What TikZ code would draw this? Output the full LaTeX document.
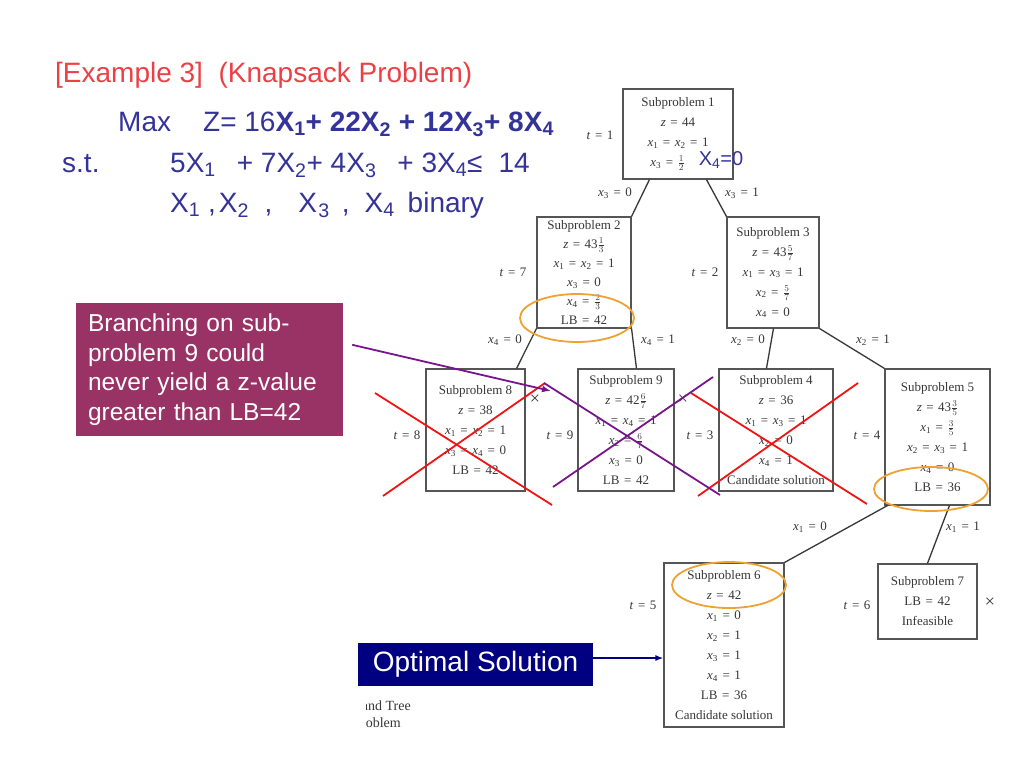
\documentclass[tikz,border=0pt]{standalone}
\usepackage{fontspec}
\setmainfont{Liberation Serif}
\setsansfont{Liberation Sans}
\usetikzlibrary{arrows.meta,calc,shapes.geometric}
\definecolor{titlered}{RGB}{235,65,70}
\definecolor{slideblue}{RGB}{51,51,153}
\definecolor{boxgray}{RGB}{85,85,85}
\definecolor{txtgray}{RGB}{55,55,55}
\definecolor{ellorange}{RGB}{238,162,50}
\definecolor{crossred}{RGB}{240,20,20}
\definecolor{crosspurple}{RGB}{120,20,140}
\definecolor{calloutc}{RGB}{153,51,102}
\definecolor{optnavy}{RGB}{0,0,128}
\newcommand{\xv}[1]{\textit{x}\textsubscript{#1}}
\newcommand{\eq}{\hspace{.35em}=\hspace{.35em}}
\begin{document}
\begin{tikzpicture}[x=1pt,y=-1pt,
  box/.style={draw=boxgray,line width=1.1pt,text=txtgray,font=\fontsize{13}{20}\selectfont,align=center,inner sep=0pt},
  lbl/.style={text=txtgray,font=\fontsize{13}{13}\selectfont,inner sep=0pt},
  edge/.style={draw=txtgray,line width=1.3pt},
  ell/.style={ellipse,draw=ellorange,line width=1.8pt},
  redx/.style={draw=crossred,line width=1.8pt},
  purx/.style={draw=crosspurple,line width=1.8pt},
  slide/.style={font=\sffamily\fontsize{28}{33}\selectfont,inner sep=0pt},
  xmark/.style={text=txtgray,font=\fontsize{18}{18}\selectfont,inner sep=0pt}
]
\useasboundingbox[fill=white] (0,0) rectangle (1024,768);

% ---- problem statement
\node[slide,text=titlered,anchor=base west] (title) at (55,82) {[Example 3]\ \ (Knapsack Problem)};
\node[slide,text=slideblue,anchor=base west] (max) at (118,131) {Max};
\node[slide,text=slideblue,anchor=base west] (obj) at (203,131) {Z= 16\textbf{X\textsubscript{1}+ 22X\textsubscript{2} + 12X\textsubscript{3}+ 8X\textsubscript{4}}};
\node[slide,text=slideblue,anchor=base west] (st) at (62,172) {s.t.};
\node[slide,text=slideblue,anchor=base west] (cons) at (170,172) {5X\textsubscript{1}\hspace{21pt}+ 7X\textsubscript{2}+ 4X\textsubscript{3}\hspace{21pt}+ 3X\textsubscript{4}≤\hspace{16pt}14};
\node[slide,text=slideblue,anchor=base west] (bin) at (170,212) {X\textsubscript{1} ,\hspace{3pt}X\textsubscript{2}\hspace{15.6pt},\hspace{26pt}X\hspace{1.5pt}\textsubscript{3}\hspace{12pt},\hspace{15pt}X\textsubscript{4}\hspace{13pt}binary};

% ---- tree boxes
\node[box,minimum width=110pt,minimum height=90pt] (b1) at (678,134) {Subproblem 1\\ \textit{z}\eq 44\\ \xv1\eq\xv2\eq 1\\ \xv3\eq$\frac{1}{2}$\hspace{1.6em}\mbox{}};
\node[box,font=\fontsize{13}{19}\selectfont,minimum width=94pt,minimum height=111pt] (b2) at (584,272.5) {Subproblem 2\\ \textit{z}\eq 43$\frac{1}{3}$\\ \xv1\eq\xv2\eq 1\\ \xv3\eq 0\\ \xv4\eq$\frac{2}{3}$\\ LB\eq 42};
\node[box,minimum width=92pt,minimum height=111pt] (b3) at (773,272.5) {Subproblem 3\\ \textit{z}\eq 43$\frac{5}{7}$\\ \xv1\eq\xv3\eq 1\\ \xv2\eq$\frac{5}{7}$\\ \xv4\eq 0};
\node[box,minimum width=99pt,minimum height=122pt] (b8) at (475.5,430) {Subproblem 8\\ \textit{z}\eq 38\\ \xv1\eq\xv2\eq 1\\ \xv3\eq\xv4\eq 0\\ LB\eq 42};
\node[box,minimum width=96pt,minimum height=122pt] (b9) at (626,430) {Subproblem 9\\ \textit{z}\eq 42$\frac{6}{7}$\\ \xv1\eq\xv4\eq 1\\ \xv2\eq$\frac{6}{7}$\\ \xv3\eq 0\\ LB\eq 42};
\node[box,minimum width=114pt,minimum height=122pt] (b4) at (776,430) {Subproblem 4\\ \textit{z}\eq 36\\ \xv1\eq\xv3\eq 1\\ \xv2\eq 0\\ \xv4\eq 1\\ Candidate solution};
\node[box,minimum width=105pt,minimum height=136pt] (b5) at (937.5,437) {Subproblem 5\\ \textit{z}\eq 43$\frac{3}{5}$\\ \xv1\eq$\frac{3}{5}$\\ \xv2\eq\xv3\eq 1\\ \xv4\eq 0\\ LB\eq 36};
\node[box,minimum width=120pt,minimum height=164pt] (b6) at (724,645) {Subproblem 6\\ \textit{z}\eq 42\\ \xv1\eq 0\\ \xv2\eq 1\\ \xv3\eq 1\\ \xv4\eq 1\\ LB\eq 36\\ Candidate solution};
\node[box,minimum width=99pt,minimum height=75pt] (b7) at (927.5,601.5) {Subproblem 7\\ LB\eq 42\\ Infeasible};

\node[text=slideblue,font=\sffamily\fontsize{20}{20}\selectfont,inner sep=0pt] (x40) at (721,160) {X\textsubscript{4}=0};

% ---- tree edges
\draw[edge] ($(b1.south west)+(27,0)$) -- (b2.north east);
\draw[edge] ($(b1.south west)+(84,0)$) -- (b3.north west);
\draw[edge] (b2.south west) -- ($(b8.north east)+(-9,0)$);
\draw[edge] (b2.south east) -- ($(b9.north west)+(59,0)$);
\draw[edge] ($(b3.south west)+(47,0)$) -- ($(b4.north west)+(48,0)$);
\draw[edge] (b3.south east) -- (b5.north west);
\draw[edge] ($(b5.south west)+(3,0)$) -- (b6.north east);
\draw[edge] ($(b5.south west)+(65,0)$) -- ($(b7.north west)+(50,0)$);

% ---- edge labels
\node[lbl] (l30) at (615,193) {\xv3\eq 0};
\node[lbl] (l31) at (742,193) {\xv3\eq 1};
\node[lbl] (l40) at (505,340) {\xv4\eq 0};
\node[lbl] (l41) at (658,340) {\xv4\eq 1};
\node[lbl] (l20) at (748,340) {\xv2\eq 0};
\node[lbl] (l21) at (873,340) {\xv2\eq 1};
\node[lbl] (l10) at (810,527) {\xv1\eq 0};
\node[lbl] (l11) at (963,527) {\xv1\eq 1};
% ---- t labels
\node[lbl] (t1) at (600,135) {\textit{t}\eq 1};
\node[lbl] (t7) at (513,272) {\textit{t}\eq 7};
\node[lbl] (t2) at (705,272) {\textit{t}\eq 2};
\node[lbl] (t8) at (407,435) {\textit{t}\eq 8};
\node[lbl] (t9) at (560,435) {\textit{t}\eq 9};
\node[lbl] (t3) at (700,435) {\textit{t}\eq 3};
\node[lbl] (t4) at (867,435) {\textit{t}\eq 4};
\node[lbl] (t5) at (643,605) {\textit{t}\eq 5};
\node[lbl] (t6) at (857,605) {\textit{t}\eq 6};
% ---- fathomed marks
\node[xmark] (m8) at (535,400) {×};
\node[xmark] (m9) at (683,400) {×};
\node[xmark] (m7) at (990,603) {×};

% ---- highlight ellipses
\node[ell,minimum width=114pt,minimum height=48pt] (e2) at (577,318) {};
\node[ell,minimum width=114pt,minimum height=46pt] (e6) at (729,585) {};
\node[ell,minimum width=114pt,minimum height=44pt] (e5) at (931,489) {};

% ---- crosses
\draw[redx] (375,393) -- (552,505);
\draw[redx] (383,496) -- (545,383);
\draw[redx] (691,393) -- (867,504);
\draw[redx] (698,496) -- (858,383);
\draw[purx] (544,383) -- (720,495);
\draw[purx] (553,487) -- (713,377);

% ---- callout
\node[fill=calloutc,text=white,font=\sffamily\fontsize{24.5}{29.5}\selectfont,align=left,text width=243pt,inner xsep=12pt,inner ysep=0pt,minimum height=133pt] (cb) at (209.5,369.5) {Branching on sub-\\problem 9 could\\never yield a z-value\\greater than LB=42};
\coordinate (pt) at (551,391);
\draw[draw=crosspurple,line width=1.8pt,-{Latex[length=9pt,width=7pt]}] ($(cb.north east)+(9,42)$) -- (pt);

% ---- optimal solution
\node[fill=optnavy,text=white,font=\sffamily\fontsize{28}{28}\selectfont,minimum width=235pt,minimum height=43pt,inner sep=0pt] (ob) at (475.5,664.5) {Optimal Solution};
\draw[draw=optnavy,line width=1.5pt,-{Latex[length=8pt,width=6pt]}] ($(ob.east)+(0,-6.5)$) coordinate (oa) -- (oa -| b6.west);

% ---- cropped caption
\begin{scope}
\clip (366,690) rectangle (460,735);
\node[lbl,anchor=base east,font=\fontsize{14}{14}\selectfont] (cap1) at (411,710) {and Tree};
\node[lbl,anchor=base east,font=\fontsize{14}{14}\selectfont] (cap2) at (401,727) {Problem};
\end{scope}
\end{tikzpicture}
\end{document}
